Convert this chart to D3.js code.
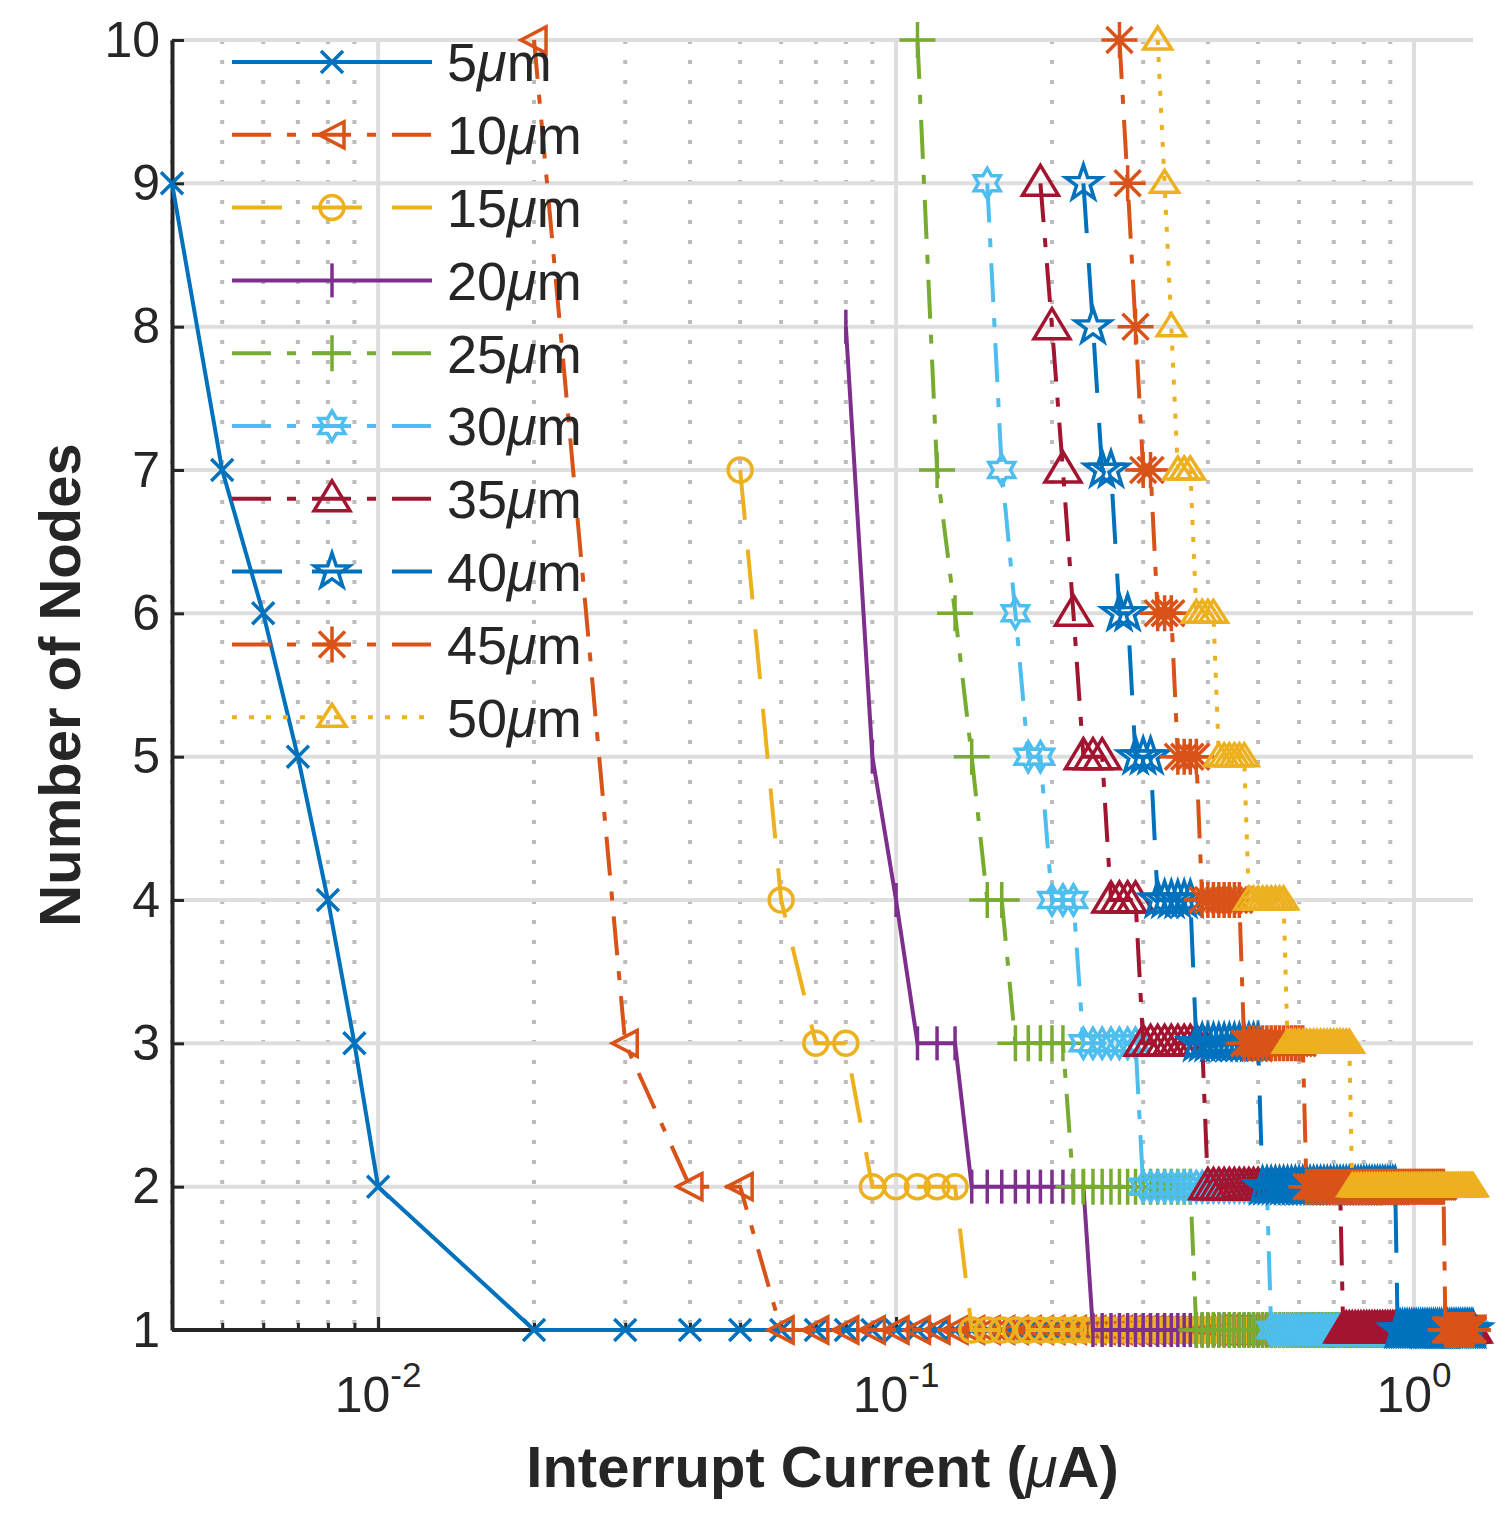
<!DOCTYPE html>
<html>
<head>
<meta charset="utf-8">
<script src="https://cdn.jsdelivr.net/npm/d3@7"></script>
<style>
  html, body { margin: 0; padding: 0; background: #fff; }
  svg { display: block; font-family: "Liberation Sans", Arial, Helvetica, sans-serif; }
</style>
</head>
<body>
<div id="chart"></div>
<script>
const _ = null; // no sample at this current

// Interrupt current (µA) of the sweep
const current = [
  0.004, 0.005, 0.006, 0.007, 0.008, 0.009,
  0.01, 0.02, 0.03, 0.04, 0.05, 0.06, 0.07, 0.08, 0.09,
  0.10, 0.11, 0.12, 0.13, 0.14, 0.15, 0.16, 0.17, 0.18, 0.19,
  0.20, 0.21, 0.22, 0.23, 0.24, 0.25, 0.26, 0.27, 0.28, 0.29,
  0.30, 0.31, 0.32, 0.33, 0.34, 0.35, 0.36, 0.37, 0.38, 0.39,
  0.40, 0.41, 0.42, 0.43, 0.44, 0.45, 0.46, 0.47, 0.48, 0.49,
  0.50, 0.51, 0.52, 0.53, 0.54, 0.55, 0.56, 0.57, 0.58, 0.59,
  0.60, 0.61, 0.62, 0.63, 0.64, 0.65, 0.66, 0.67, 0.68, 0.69,
  0.70, 0.71, 0.72, 0.73, 0.74, 0.75, 0.76, 0.77, 0.78, 0.79,
  0.80, 0.81, 0.82, 0.83, 0.84, 0.85, 0.86, 0.87, 0.88, 0.89,
  0.90, 0.91, 0.92, 0.93, 0.94, 0.95, 0.96, 0.97, 0.98, 0.99,
  1.00, 1.01, 1.02, 1.03, 1.04, 1.05, 1.06, 1.07, 1.08, 1.09,
  1.10, 1.11, 1.12, 1.13, 1.14, 1.15, 1.16, 1.17, 1.18, 1.19,
  1.20, 1.21, 1.22, 1.23, 1.24, 1.25, 1.26, 1.27, 1.28, 1.29,
  1.30
];

// Number of nodes for each gap width, one entry per current above
const nodes5 = [
  9,7,6,5,4,3,
  2,1,1,1,1,1,1,1,1,
  1,1,1,1,1,1,1,1,1,1, 1,1,1,1,1,1,1,1,1,1, 1,1,1,1,1,1,1,1,1,1,
  1,1,1,1,1,1,1,1,1,1, 1,1,1,1,1,1,1,1,1,1, 1,1,1,1,1,1,1,1,1,1,
  1,1,1,1,1,1,1,1,1,1, 1,1,1,1,1,1,1,1,1,1, 1,1,1,1,1,1,1,1,1,1,
  1,1,1,1,1,1,1,1,1,1, 1,1,1,1,1,1,1,1,1,1, 1,1,1,1,1,1,1,1,1,1,
  1
];
const nodes10 = [
  _,_,_,_,_,_,
  _,10,3,2,2,1,1,1,1,
  1,1,1,1,1,1,1,1,1,1, 1,1,1,1,1,1,1,1,1,1, 1,1,1,1,1,1,1,1,1,1,
  1,1,1,1,1,1,1,1,1,1, 1,1,1,1,1,1,1,1,1,1, 1,1,1,1,1,1,1,1,1,1,
  1,1,1,1,1,1,1,1,1,1, 1,1,1,1,1,1,1,1,1,1, 1,1,1,1,1,1,1,1,1,1,
  1,1,1,1,1,1,1,1,1,1, 1,1,1,1,1,1,1,1,1,1, 1,1,1,1,1,1,1,1,1,1,
  1
];
const nodes15 = [
  _,_,_,_,_,_,
  _,_,_,_,7,4,3,3,2,
  2,2,2,2,1,1,1,1,1,1, 1,1,1,1,1,1,1,1,1,1, 1,1,1,1,1,1,1,1,1,1,
  1,1,1,1,1,1,1,1,1,1, 1,1,1,1,1,1,1,1,1,1, 1,1,1,1,1,1,1,1,1,1,
  1,1,1,1,1,1,1,1,1,1, 1,1,1,1,1,1,1,1,1,1, 1,1,1,1,1,1,1,1,1,1,
  1,1,1,1,1,1,1,1,1,1, 1,1,1,1,1,1,1,1,1,1, 1,1,1,1,1,1,1,1,1,1,
  1
];
const nodes20 = [
  _,_,_,_,_,_,
  _,_,_,_,_,_,_,8,5,
  4,3,3,3,2,2,2,2,2,2, 2,2,2,2,1,1,1,1,1,1, 1,1,1,1,1,1,1,1,1,1,
  1,1,1,1,1,1,1,1,1,1, 1,1,1,1,1,1,1,1,1,1, 1,1,1,1,1,1,1,1,1,1,
  1,1,1,1,1,1,1,1,1,1, 1,1,1,1,1,1,1,1,1,1, 1,1,1,1,1,1,1,1,1,1,
  1,1,1,1,1,1,1,1,1,1, 1,1,1,1,1,1,1,1,1,1, 1,1,1,1,1,1,1,1,1,1,
  1
];
const nodes25 = [
  _,_,_,_,_,_,
  _,_,_,_,_,_,_,_,_,
  _,10,7,6,5,4,4,3,3,3, 3,3,2,2,2,2,2,2,2,2, 2,2,2,2,2,2,2,2,1,1,
  1,1,1,1,1,1,1,1,1,1, 1,1,1,1,1,1,1,1,1,1, 1,1,1,1,1,1,1,1,1,1,
  1,1,1,1,1,1,1,1,1,1, 1,1,1,1,1,1,1,1,1,1, 1,1,1,1,1,1,1,1,1,1,
  1,1,1,1,1,1,1,1,1,1, 1,1,1,1,1,1,1,1,1,1, 1,1,1,1,1,1,1,1,1,1,
  1
];
const nodes30 = [
  _,_,_,_,_,_,
  _,_,_,_,_,_,_,_,_,
  _,_,_,_,_,9,7,6,5,5, 4,4,4,3,3,3,3,3,3,3, 2,2,2,2,2,2,2,2,2,2,
  2,2,2,2,2,2,2,2,2,2, 2,2,2,1,1,1,1,1,1,1, 1,1,1,1,1,1,1,1,1,1,
  1,1,1,1,1,1,1,1,1,1, 1,1,1,1,1,1,1,1,1,1, 1,1,1,1,1,1,1,1,1,1,
  1,1,1,1,1,1,1,1,1,1, 1,1,1,1,1,1,1,1,1,1, 1,1,1,1,1,1,1,1,1,1,
  1
];
const nodes35 = [
  _,_,_,_,_,_,
  _,_,_,_,_,_,_,_,_,
  _,_,_,_,_,_,_,_,_,9, 8,7,6,5,5,5,4,4,4,4, 3,3,3,3,3,3,3,3,3,3,
  2,2,2,2,2,2,2,2,2,2, 2,2,2,2,2,2,2,2,2,2, 2,2,2,2,2,2,2,2,2,2,
  2,2,2,1,1,1,1,1,1,1, 1,1,1,1,1,1,1,1,1,1, 1,1,1,1,1,1,1,1,1,1,
  1,1,1,1,1,1,1,1,1,1, 1,1,1,1,1,1,1,1,1,1, 1,1,1,1,1,1,1,1,1,1,
  1
];
const nodes40 = [
  _,_,_,_,_,_,
  _,_,_,_,_,_,_,_,_,
  _,_,_,_,_,_,_,_,_,_, _,_,_,9,8,7,7,6,6,5, 5,5,4,4,4,4,4,4,3,3,
  3,3,3,3,3,3,3,3,3,3, 3,2,2,2,2,2,2,2,2,2, 2,2,2,2,2,2,2,2,2,2,
  2,2,2,2,2,2,2,2,2,2, 2,2,2,2,2,2,2,2,2,2, 2,2,2,1,1,1,1,1,1,1,
  1,1,1,1,1,1,1,1,1,1, 1,1,1,1,1,1,1,1,1,1, 1,1,1,1,1,1,1,1,1,1,
  1
];
const nodes45 = [
  _,_,_,_,_,_,
  _,_,_,_,_,_,_,_,_,
  _,_,_,_,_,_,_,_,_,_, _,_,_,_,_,_,_,10,9,8, 7,7,6,6,6,5,5,5,5,4,
  4,4,4,4,4,4,4,3,3,3, 3,3,3,3,3,3,3,3,3,3, 3,3,2,2,2,2,2,2,2,2,
  2,2,2,2,2,2,2,2,2,2, 2,2,2,2,2,2,2,2,2,2, 2,2,2,2,2,2,2,2,2,2,
  2,2,2,2,2,2,2,2,2,2, 2,2,2,2,2,1,1,1,1,1, 1,1,1,1,1,1,1,1,1,1,
  1
];
const nodes50 = [
  _,_,_,_,_,_,
  _,_,_,_,_,_,_,_,_,
  _,_,_,_,_,_,_,_,_,_, _,_,_,_,_,_,_,_,_,_, _,_,10,9,8,7,7,7,6,6,
  6,6,5,5,5,5,5,5,4,4, 4,4,4,4,4,4,4,3,3,3, 3,3,3,3,3,3,3,3,3,3,
  3,3,3,3,3,3,2,2,2,2, 2,2,2,2,2,2,2,2,2,2, 2,2,2,2,2,2,2,2,2,2,
  2,2,2,2,2,2,2,2,2,2, 2,2,2,2,2,2,2,2,2,2, 2,2,2,2,2,2,2,2,2,2,
  2
];

const gapLabels = ["5", "10", "15", "20", "25", "30", "35", "40", "45", "50"];
const nodeSeries = [nodes5, nodes10, nodes15, nodes20, nodes25,
                    nodes30, nodes35, nodes40, nodes45, nodes50];
const nodeTicks = [1, 2, 3, 4, 5, 6, 7, 8, 9, 10];
const decadeTicks = [0.01, 0.1, 1];
const decadeExponents = ["-2", "-1", "0"];

// line / marker look, MATLAB default colour order
const dashDot = "39,16,9,16", dashed = "50,30", dotted = "5,12";
const styles = [
  { color: "#0072BD", dash: null,    marker: "x" },
  { color: "#D95319", dash: dashDot, marker: "<" },
  { color: "#EDB120", dash: dashed,  marker: "o" },
  { color: "#7E2F8E", dash: null,    marker: "|" },
  { color: "#77AC30", dash: dashDot, marker: "+" },
  { color: "#4DBEEE", dash: dashDot, marker: "h" },
  { color: "#A2142F", dash: dashDot, marker: "^" },
  { color: "#0072BD", dash: dashed,  marker: "p" },
  { color: "#D95319", dash: dashDot, marker: "*" },
  { color: "#EDB120", dash: dotted,  marker: "v" }
];

const width = 1510, height = 1518;
const plot = { left: 172, right: 1473, top: 40, bottom: 1330 };
const ink = "#262626";

const svg = d3.select("#chart").append("svg")
  .attr("width", width).attr("height", height);

const x = d3.scaleLog().domain([0.004, 1.3]).range([plot.left, plot.right]);
const y = d3.scaleLinear().domain([1, 10]).range([plot.bottom, plot.top]);

//#region grid
const minorTicks = x.ticks().filter(t => !decadeTicks.some(d => Math.abs(d - t) < 1e-9));

const grid = svg.append("g");
grid.selectAll("line.minor").data(minorTicks).join("line")
  .attr("x1", d => x(d)).attr("x2", d => x(d))
  .attr("y1", plot.top).attr("y2", plot.bottom)
  .attr("stroke", "#bcbcbc").attr("stroke-width", 4)
  .attr("stroke-dasharray", "4,16");

grid.selectAll("line.hx").data(nodeTicks).join("line")
  .attr("x1", plot.left).attr("x2", plot.right)
  .attr("y1", d => y(d)).attr("y2", d => y(d))
  .attr("stroke", "#dedede").attr("stroke-width", 4);

grid.selectAll("line.vx").data(decadeTicks).join("line")
  .attr("x1", d => x(d)).attr("x2", d => x(d))
  .attr("y1", plot.top).attr("y2", plot.bottom)
  .attr("stroke", "#dedede").attr("stroke-width", 4);
//#endregion

//#region axes (drawn under the curves, like MATLAB's default layer)
const yAxis = d3.axisLeft(y).tickValues(nodeTicks).tickSize(-12).tickSizeOuter(0).tickPadding(12);
const ya = svg.append("g").attr("transform", `translate(${plot.left},0)`).call(yAxis);
ya.select(".domain").attr("stroke", ink).attr("stroke-width", 4);
ya.selectAll(".tick line").attr("stroke", ink).attr("stroke-width", 3);
ya.selectAll(".tick text")
  .attr("fill", ink).attr("font-size", 50)
  .attr("font-family", "'Liberation Sans', Arial, sans-serif");

const xMinor = d3.axisBottom(x).tickValues(minorTicks).tickSize(-7).tickSizeOuter(0).tickFormat("");
const xm = svg.append("g").attr("transform", `translate(0,${plot.bottom})`).call(xMinor);
xm.select(".domain").remove();
xm.selectAll(".tick line").attr("stroke", ink).attr("stroke-width", 3);

const xAxis = d3.axisBottom(x).tickValues(decadeTicks).tickSize(-13).tickSizeOuter(0).tickFormat("");
const xa = svg.append("g").attr("transform", `translate(0,${plot.bottom})`).call(xAxis);
xa.select(".domain").attr("stroke", ink).attr("stroke-width", 4)
  .attr("d", `M${plot.left},0H${plot.right}`);
xa.selectAll(".tick line").attr("stroke", ink).attr("stroke-width", 3);

const xLabels = svg.append("g");
decadeTicks.forEach((t, i) => {
  const tx = xLabels.append("text")
    .attr("x", x(t)).attr("y", 1412)
    .attr("text-anchor", "middle")
    .attr("fill", ink).attr("font-size", 50);
  tx.append("tspan").text("10");
  tx.append("tspan").attr("font-size", 35).attr("dy", -25).text(decadeExponents[i]);
});

const xTitle = svg.append("text")
  .attr("x", (plot.left + plot.right) / 2).attr("y", 1487)
  .attr("text-anchor", "middle")
  .attr("fill", ink).attr("font-size", 58).attr("font-weight", "bold");
xTitle.append("tspan").text("Interrupt Current (");
xTitle.append("tspan").attr("font-style", "italic").attr("font-weight", "normal").text("μ");
xTitle.append("tspan").text("A)");

svg.append("text")
  .attr("transform", `translate(80,${(plot.top + plot.bottom) / 2}) rotate(-90)`)
  .attr("text-anchor", "middle")
  .attr("fill", ink).attr("font-size", 58).attr("font-weight", "bold")
  .text("Number of Nodes");
//#endregion

//#region markers
function star(p, n, R, r) {
  for (let k = 0; k < 2 * n; k++) {
    const a = -Math.PI / 2 + k * Math.PI / n;
    const rad = k % 2 ? r : R;
    if (k === 0) p.moveTo(rad * Math.cos(a), rad * Math.sin(a));
    else p.lineTo(rad * Math.cos(a), rad * Math.sin(a));
  }
  p.closePath();
}

function markerPath(type) {
  const p = d3.path();
  switch (type) {
    case "x":
      p.moveTo(-11, -11); p.lineTo(11, 11); p.moveTo(-11, 11); p.lineTo(11, -11);
      break;
    case "<":
      p.moveTo(-13, 0); p.lineTo(12, -13); p.lineTo(12, 13); p.closePath();
      break;
    case "o":
      p.moveTo(12, 0); p.arc(0, 0, 12, 0, 2 * Math.PI); p.closePath();
      break;
    case "|":
      p.moveTo(0, -17); p.lineTo(0, 17);
      break;
    case "+":
      p.moveTo(-18, 0); p.lineTo(18, 0); p.moveTo(0, -18); p.lineTo(0, 18);
      break;
    case "h":
      star(p, 6, 15, 8.7);
      break;
    case "^":
      p.moveTo(0, -18); p.lineTo(18, 12); p.lineTo(-18, 12); p.closePath();
      break;
    case "p":
      star(p, 5, 18.5, 7.2);
      break;
    case "*":
      p.moveTo(-18, 0); p.lineTo(18, 0); p.moveTo(0, -18); p.lineTo(0, 18);
      p.moveTo(-13, -13); p.lineTo(13, 13); p.moveTo(-13, 13); p.lineTo(13, -13);
      break;
    case "v": // small upward triangle of the 50 µm curve
      p.moveTo(0, -13); p.lineTo(14, 9); p.lineTo(-14, 9); p.closePath();
      break;
  }
  return p.toString();
}
//#endregion

//#region curves
const line = d3.line()
  .defined(d => d.n !== null)
  .x(d => x(d.c))
  .y(d => y(d.n));

const curves = svg.append("g");
nodeSeries.forEach((vals, i) => {
  const st = styles[i];
  const pts = current.map((c, k) => ({ c, n: vals[k] }));
  const g = curves.append("g");
  g.append("path")
    .attr("d", line(pts))
    .attr("fill", "none")
    .attr("stroke", st.color)
    .attr("stroke-width", 4)
    .attr("stroke-dasharray", st.dash);
  g.selectAll("path.m").data(pts.filter(d => d.n !== null)).join("path")
    .attr("transform", d => `translate(${x(d.c)},${y(d.n)})`)
    .attr("d", markerPath(st.marker))
    .attr("fill", "none")
    .attr("stroke", st.color)
    .attr("stroke-width", 3.5);
});
//#endregion

//#region legend
const legend = svg.append("g");
gapLabels.forEach((lab, i) => {
  const st = styles[i];
  const ly = 62 + i * 72.8;
  const row = legend.append("g").attr("transform", `translate(0,${ly})`);
  row.append("line")
    .attr("x1", 232).attr("x2", 432).attr("y1", 0).attr("y2", 0)
    .attr("stroke", st.color).attr("stroke-width", 4)
    .attr("stroke-dasharray", st.dash);
  row.append("path")
    .attr("transform", "translate(332,0)")
    .attr("d", markerPath(st.marker))
    .attr("fill", "none").attr("stroke", st.color).attr("stroke-width", 3.5);
  const t = row.append("text")
    .attr("x", 447).attr("y", 0).attr("dy", "0.36em")
    .attr("fill", ink).attr("font-size", 54);
  t.append("tspan").text(lab);
  t.append("tspan").attr("font-style", "italic").text("μ");
  t.append("tspan").text("m");
});
//#endregion
</script>
</body>
</html>
